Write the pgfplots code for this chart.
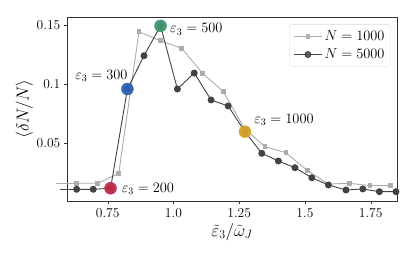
\documentclass[border=0pt]{standalone}
\usepackage{pgfplots}
\pgfplotsset{compat=1.18}
\definecolor{cgray}{RGB}{172,172,172}
\definecolor{cdark}{RGB}{66,66,66}
\definecolor{cred}{RGB}{192,42,72}
\definecolor{cblue}{RGB}{48,96,176}
\definecolor{cgreen}{RGB}{62,150,112}
\definecolor{cgold}{RGB}{212,162,38}
\begin{document}
\begin{tikzpicture}
\useasboundingbox (-67.3pt,-55pt) rectangle (347.7pt,201pt);
\begin{axis}[
 scale only axis, width=329.7pt, height=184pt,
 xmin=0.5964, xmax=1.850, ymin=0.0006, ymax=0.1565,
 clip=false,
 axis line style={draw=black!80},
 tick align=outside, xtick pos=bottom, ytick pos=left,
 major tick length=3.5pt,
 tick style={black!80},
 xtick={0.75,1,1.25,1.5,1.75}, xticklabels={0.75,1.0,1.25,1.5,1.75},
 ytick={0.05,0.1,0.15}, yticklabels={0.05,0.1,0.15},
 tick label style={font=\fontsize{13.5}{15}\selectfont},
 xlabel style={font=\fontsize{16.5}{19}\selectfont, at={(0.5,0)}, anchor=center, yshift=-31pt},
 ylabel style={font=\fontsize{19}{22}\selectfont, yshift=-3pt},
 xlabel={$\tilde{\varepsilon}_3/\tilde{\omega}_J$},
 ylabel={$\langle \delta N/N\rangle$},
 legend style={at={(0.981,0.96)}, anchor=north east, draw=black!15, rounded corners=2pt, fill=white, fill opacity=0.8, text opacity=1, font=\fontsize{14.5}{17}\selectfont, inner sep=4pt, row sep=3pt},
 legend cell align=left,
 legend image code/.code={\draw[mark repeat=2,mark phase=2] plot coordinates {(0cm,0cm) (0.5cm,0cm) (1.0cm,0cm)};},
]
\addplot[cgray, line width=0.9pt, mark=square*, mark size=1.9pt] coordinates {
(0.632,0.0156)(0.712,0.0156)(0.792,0.024)(0.869,0.144)(0.951,0.1364)(1.031,0.130)(1.110,0.109)(1.190,0.0932)(1.270,0.062)(1.348,0.0466)(1.428,0.0415)(1.510,0.0263)(1.589,0.015)(1.669,0.0156)(1.747,0.0136)(1.826,0.0136)};
\addlegendentry{$N = 1000$}
\addplot[cdark, line width=0.9pt, mark=*, mark size=3pt] coordinates {
(0.632,0.0105)(0.695,0.0105)(0.761,0.0114)(0.825,0.0955)(0.888,0.1237)(0.951,0.149)(1.015,0.0955)(1.079,0.109)(1.143,0.0862)(1.208,0.0811)(1.272,0.0593)(1.336,0.041)(1.399,0.0345)(1.462,0.0288)(1.526,0.0203)(1.589,0.0142)(1.656,0.0099)(1.72,0.0108)(1.783,0.0085)(1.846,0.0085)};
\addlegendentry{$N = 5000$}
\addplot[cgray, line width=0.9pt, forget plot] coordinates {(0.552,0.0156)(0.632,0.0156)};
\addplot[cdark, line width=0.9pt, forget plot] coordinates {(0.568,0.0105)(0.632,0.0105)};
\addplot[only marks, mark=*, mark size=6pt, color=cred, opacity=0.95, forget plot] coordinates {(0.761,0.0114)};
\addplot[only marks, mark=*, mark size=6pt, color=cblue, opacity=0.95, forget plot] coordinates {(0.825,0.0955)};
\addplot[only marks, mark=*, mark size=6pt, color=cgreen, opacity=0.95, forget plot] coordinates {(0.951,0.149)};
\addplot[only marks, mark=*, mark size=6pt, color=cgold, opacity=0.95, forget plot] coordinates {(1.272,0.0593)};
\node[anchor=east, inner sep=0pt, font=\fontsize{14.5}{17}\selectfont] at (axis cs:0.826,0.1065) {$\varepsilon_3 = 300$};
\node[anchor=west, inner sep=0pt, font=\fontsize{14.5}{17}\selectfont] at (axis cs:0.987,0.146) {$\varepsilon_3 = 500$};
\node[anchor=west, inner sep=0pt, font=\fontsize{14.5}{17}\selectfont] at (axis cs:1.307,0.0692) {$\varepsilon_3 = 1000$};
\node[anchor=west, inner sep=0pt, font=\fontsize{14.5}{17}\selectfont] at (axis cs:0.803,0.0108) {$\varepsilon_3 = 200$};
\end{axis}
\end{tikzpicture}
\end{document}
